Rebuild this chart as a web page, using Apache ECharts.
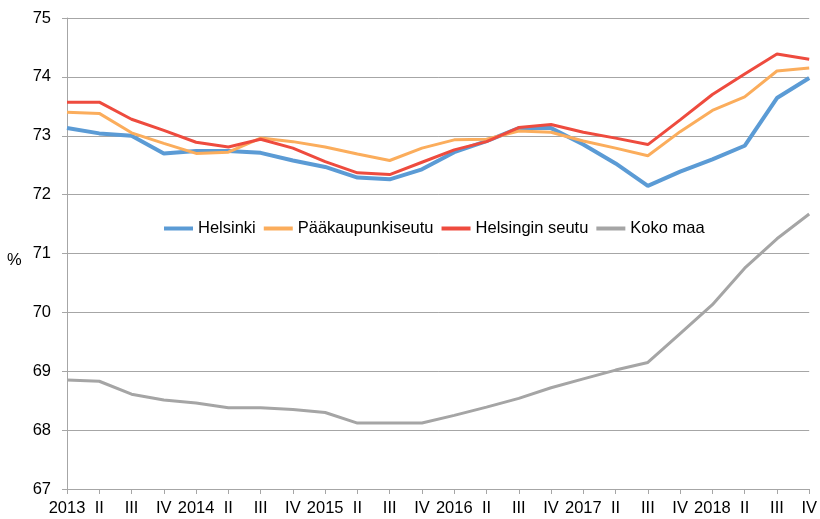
<!DOCTYPE html>
<html>
<head>
<meta charset="utf-8">
<script src="https://cdn.jsdelivr.net/npm/echarts@6/dist/echarts.min.js"></script>
<style>
  html, body { margin: 0; padding: 0; background: #fff; }
  #chart { width: 820px; height: 519px; }
</style>
</head>
<body>
<div id="chart"></div>
<script>
// neljännekset 2013 I - 2018 IV
var quarters = [
    '2013', 'II', 'III', 'IV',
    '2014', 'II', 'III', 'IV',
    '2015', 'II', 'III', 'IV',
    '2016', 'II', 'III', 'IV',
    '2017', 'II', 'III', 'IV',
    '2018', 'II', 'III', 'IV'
];

var helsinki = [73.13, 73.04, 73.00, 72.70, 72.74, 72.74, 72.71, 72.58,
                72.47, 72.29, 72.26, 72.43, 72.72, 72.91, 73.13, 73.13,
                72.85, 72.53, 72.15, 72.39, 72.60, 72.83, 73.64, 73.98];
var paakaupunkiseutu = [73.40, 73.38, 73.05, 72.87, 72.70, 72.72, 72.96, 72.90,
                72.81, 72.69, 72.58, 72.79, 72.93, 72.94, 73.08, 73.06,
                72.91, 72.79, 72.66, 73.07, 73.43, 73.66, 74.10, 74.15];
var helsinginSeutu = [73.57, 73.57, 73.28, 73.09, 72.89, 72.81, 72.94, 72.79,
                72.56, 72.37, 72.34, 72.55, 72.76, 72.90, 73.14, 73.19,
                73.06, 72.96, 72.85, 73.27, 73.70, 74.05, 74.39, 74.30];
var kokoMaa = [68.85, 68.83, 68.61, 68.51, 68.46, 68.38, 68.38, 68.35,
                68.30, 68.12, 68.12, 68.12, 68.25, 68.39, 68.54, 68.72,
                68.87, 69.02, 69.15, 69.64, 70.13, 70.75, 71.25, 71.67];

var yMin = 67, yMax = 75, yStep = 1;

var chart = echarts.init(document.getElementById('chart'));
var fontFam = 'Liberation Sans, Arial, sans-serif';
var fs = 16.5;

function lineSeries(name, data, color, width) {
    return {
        name: name,
        type: 'line',
        data: data,
        symbol: 'none',
        smooth: false,
        lineStyle: { color: color, width: width },
        itemStyle: { color: color }
    };
}

var option = {
    backgroundColor: '#ffffff',
    animation: false,
    textStyle: { fontFamily: fontFam },
    grid: { left: 67, right: 8, top: 18, bottom: 30 },
    // y-akselin yksikkö
    graphic: [{
        type: 'text',
        left: 7,
        top: 252,
        style: { text: '%', fill: '#000', font: fs + 'px ' + fontFam }
    }],
    legend: {
        top: 220,
        left: 164,
        padding: 0,
        itemWidth: 29,
        itemHeight: 4,
        itemGap: 8,
        icon: 'rect',
        textStyle: { color: '#000', fontSize: fs, fontFamily: fontFam, padding: [0, 0, 0, 0] },
        data: ['Helsinki', 'Pääkaupunkiseutu', 'Helsingin seutu', 'Koko maa']
    },
    xAxis: {
        type: 'category',
        boundaryGap: false,
        data: quarters,
        axisLine: { lineStyle: { color: '#a6a6a6', width: 1 } },
        axisTick: { show: true, length: 5, lineStyle: { color: '#a6a6a6' } },
        axisLabel: { color: '#000', fontSize: fs, margin: 11, interval: 0, fontFamily: fontFam },
        splitLine: { show: false }
    },
    yAxis: {
        type: 'value',
        min: yMin,
        max: yMax,
        interval: yStep,
        axisLine: { show: true, lineStyle: { color: '#a6a6a6', width: 1 } },
        axisTick: { show: true, length: 5, lineStyle: { color: '#a6a6a6' } },
        axisLabel: { color: '#000', fontSize: fs, margin: 16, fontFamily: fontFam },
        splitLine: { show: true, lineStyle: { color: '#a6a6a6', width: 1 } }
    },
    series: [
        lineSeries('Helsinki', helsinki, '#5b9bd5', 4),
        lineSeries('Pääkaupunkiseutu', paakaupunkiseutu, '#fbad5c', 3),
        lineSeries('Helsingin seutu', helsinginSeutu, '#ee4b3e', 3),
        lineSeries('Koko maa', kokoMaa, '#a5a5a5', 3)
    ]
};

chart.setOption(option);
</script>
</body>
</html>
